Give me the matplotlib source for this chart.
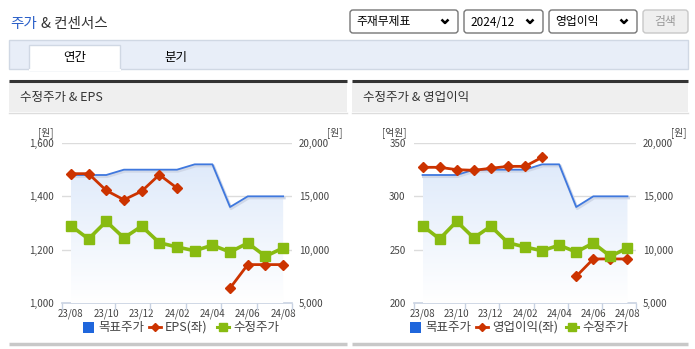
import numpy as np
import matplotlib
matplotlib.use("Agg")
import matplotlib.pyplot as plt
from matplotlib.patches import Rectangle, FancyBboxPatch, Polygon
from matplotlib.lines import Line2D

plt.rcParams['font.family'] = ['Noto Sans CJK KR', 'DejaVu Sans']

W, H = 695, 349

months = ['23/08', '23/09', '23/10', '23/11', '23/12', '24/01', '24/02',
          '24/03', '24/04', '24/05', '24/06', '24/07', '24/08']
tick_labels = ['23/08', '23/10', '23/12', '24/02', '24/04', '24/06', '24/08']

target_price = [17000, 17000, 17000, 17500, 17500, 17500, 17500,
                18000, 18000, 14000, 15000, 15000, 15000]
adj_price = [12250, 11000, 12650, 11100, 12200, 10650, 10250,
             9900, 10420, 9780, 10620, 9380, 10160]
eps = [1485, 1485, 1422, 1387, 1419, 1481, 1431,
       np.nan, np.nan, 1056, 1144, 1144, 1144]
op_profit = [327.2, 327.2, 325.0, 324.4, 326.3, 328.1, 328.1,
             336.6, np.nan, 225.0, 241.3, 241.3, 241.3]

BLUE = '#3f78de'
BLUE_LEG = '#1f66dc'
RED = '#cc3300'
GREEN = '#88bb11'
TXT = '#333333'

fig = plt.figure(figsize=(W / 100, H / 100), dpi=100)
bg = fig.add_axes([0, 0, 1, 1])
bg.set_xlim(0, W)
bg.set_ylim(H, 0)
bg.axis('off')

# header
bg.text(10, 24, '주가', color='#2a5fc8', fontsize=10.5, va='center')
bg.text(41, 24, '& 컨센서스', color=TXT, fontsize=10.5, va='center')

# dropdowns
def dropdown(x0, x1, label, y0=10, y1=33):
    bg.add_patch(FancyBboxPatch((x0, y0), x1 - x0, y1 - y0,
                                boxstyle='round,pad=0,rounding_size=3',
                                fc='white', ec='#767676', lw=1))
    bg.text(x0 + 6, (y0 + y1) / 2 + 0.5, label, fontsize=8.5, color='black', va='center')
    cx = x1 - 13
    bg.plot([cx - 3.5, cx, cx + 3.5], [19.5, 23, 19.5], color='black', lw=1.8,
            solid_capstyle='butt')

dropdown(350, 458, '주재무제표')
dropdown(464, 543, '2024/12')
dropdown(549, 637, '영업이익')
bg.add_patch(FancyBboxPatch((643, 10), 45, 23, boxstyle='round,pad=0,rounding_size=3',
                            fc='#efefef', ec='#c8c8c8', lw=1))
bg.text(665.5, 22, '검색', fontsize=8.5, color='#999999', va='center', ha='center')

# tab bar
bg.add_patch(Rectangle((9, 40), 679, 29, fc='#e8eef8', ec='#d0d8e4', lw=1))
bg.add_patch(Rectangle((29, 45), 91, 25, fc='white', ec='#d0d8e4', lw=1))
bg.plot([29.5, 119.5], [69.5, 69.5], color='white', lw=1.5)
bg.text(75, 57, '연간', fontsize=9, color='black', ha='center', va='center')
bg.text(176, 57, '분기', fontsize=9, color='black', ha='center', va='center')

# panel headers
for x0, x1, title in [(9, 347, '수정주가 & EPS'), (352, 688, '수정주가 & 영업이익')]:
    bg.add_patch(Rectangle((x0, 81), x1 - x0, 31, fc='#efefef', ec='none'))
    bg.plot([x0, x1], [80.5, 80.5], color='#333333', lw=2.2, solid_capstyle='butt')
    bg.plot([x0, x1], [112.5, 112.5], color='#dddddd', lw=1)
    bg.plot([x0, x1], [343.5, 343.5], color='#c8c8c8', lw=2.5, solid_capstyle='butt')
    bg.text(x0 + 11, 97, title, fontsize=9, color=TXT, va='center')


def make_chart(px0, px1, left_vals, left_lim, left_ticks, left_fmt, left_unit,
               left_unit_x, right_unit_x, leg_name, leg_x, leg_gap):
    py0, py1 = 143, 303
    ax = fig.add_axes([px0 / W, 1 - py1 / H, (px1 - px0) / W, (py1 - py0) / H])
    ax2 = ax.twinx()
    x = np.arange(len(months))
    ax.set_xlim(-0.5, len(months) - 0.5)
    ax.set_ylim(*left_lim)
    ax2.set_ylim(5000, 20000)

    # gradient area under target price
    top = max(target_price)
    grad = np.linspace(1, 0, 256).reshape(-1, 1)
    cmap = matplotlib.colors.LinearSegmentedColormap.from_list('g', ['#ffffff', '#dfeafa'])
    im = ax2.imshow(grad, extent=[x[0], x[-1], 5000, top], aspect='auto',
                    cmap=cmap, zorder=1, origin='upper')
    verts = [(x[0], 5000)] + list(zip(x, target_price)) + [(x[-1], 5000)]
    poly = Polygon(verts, closed=True, fc='none', ec='none', transform=ax2.transData)
    ax2.add_patch(poly)
    im.set_clip_path(poly)
    ax2.set_xlim(-0.5, len(months) - 0.5)

    ax2.plot(x, target_price, color='#d0d8e8', lw=2.2, zorder=2,
             transform=ax2.transData + matplotlib.transforms.Affine2D().translate(1, -1.5))
    ax2.plot(x, target_price, color=BLUE, lw=1.3, zorder=3)
    ax2.plot(x, left_vals, color=RED, lw=2, marker='D', ms=5.5, zorder=4,
             transform=ax.transData)
    ax2.plot(x, adj_price, color=GREEN, lw=2.6, marker='s', ms=7.5, zorder=5)

    for a in (ax, ax2):
        for s in ('top', 'left', 'right', 'bottom'):
            a.spines[s].set_visible(False)
    ax.patch.set_visible(False)
    ax.axhline(left_lim[0], color='#c8d2e2', lw=1.2, zorder=0, clip_on=False)
    for v in left_ticks[1:]:
        ax.axhline(v, color='#dcdcdc', lw=1, zorder=0)

    ax.set_yticks(left_ticks)
    ax.set_yticklabels([left_fmt(v) for v in left_ticks])
    ax.tick_params(axis='y', length=0, pad=6, labelsize=7, labelcolor='#444444')
    ax2.set_yticks([5000, 10000, 15000, 20000])
    ax2.set_yticklabels(['5,000', '10,000', '15,000', '20,000'])
    ax2.tick_params(axis='y', length=0, pad=5, labelsize=7, labelcolor='#444444')

    ax.set_xticks(x[::2])
    ax.set_xticklabels(tick_labels)
    ax.set_xticks(np.array([-0.5, 2.5, 4.5, 6.5, 8.5, 10.5, 12.5]), minor=True)
    ax.tick_params(axis='x', which='major', length=0, pad=4, labelsize=7,
                   labelcolor='#444444')
    ax.tick_params(axis='x', which='minor', length=5, width=1, color='#c8d2e2')

    bg.text(left_unit_x, 133, left_unit, fontsize=7, color='#444444', ha='center', va='center')
    bg.text(right_unit_x, 133, '[원]', fontsize=7, color='#444444', ha='center', va='center')

    # legend
    ly = 327
    lx = leg_x
    bg.add_patch(Rectangle((lx, ly - 5.5), 11, 11, fc=BLUE_LEG, ec='none'))
    bg.text(lx + 15, ly, '목표주가', fontsize=9, color='#444444', va='center')
    lx2 = lx + 66
    bg.plot([lx2, lx2 + 12], [ly, ly], color=RED, lw=2)
    bg.plot([lx2 + 6], [ly], color=RED, marker='D', ms=4.5)
    bg.text(lx2 + 16, ly, leg_name, fontsize=9, color='#444444', va='center')
    lx3 = lx2 + 16 + leg_gap
    bg.plot([lx3, lx3 + 12], [ly, ly], color=GREEN, lw=2.2)
    bg.plot([lx3 + 6], [ly], color=GREEN, marker='s', ms=6)
    bg.text(lx3 + 16, ly, '수정주가', fontsize=9, color='#444444', va='center')
    return ax, ax2


make_chart(62, 292, eps, (1000, 1600), [1000, 1200, 1400, 1600],
           lambda v: f'{v:,}', '[원]', 46, 335, 'EPS(좌)', 83, 52)
make_chart(414, 636, op_profit, (200, 350), [200, 250, 300, 350],
           lambda v: f'{v}', '[억원]', 394, 679, '영업이익(좌)', 410, 74)

fig.savefig('out.png', dpi=100)
